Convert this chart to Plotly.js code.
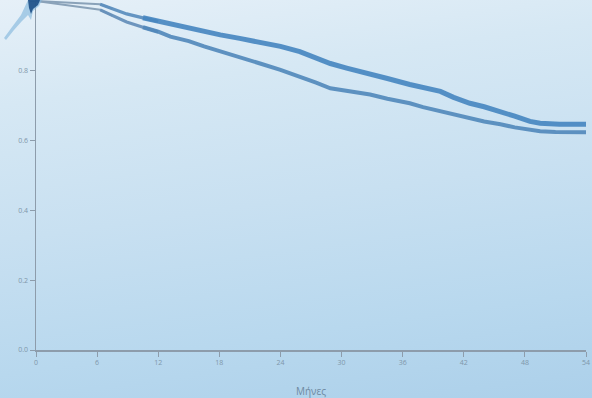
<!DOCTYPE html>
<html>
<head>
<meta charset="utf-8">
<script src="https://cdn.plot.ly/plotly-3.0.1.min.js"></script>
<style>
html,body{margin:0;padding:0;}
body{width:592px;height:398px;overflow:hidden;position:relative;
background:linear-gradient(172deg,#e6f0f8 0%,#d6e8f4 22%,#c8e0f1 50%,#b8d8ee 78%,#acd0ea 100%);}
#chart{width:592px;height:398px;position:relative;}
#splash{position:absolute;left:0;top:0;width:60px;height:60px;pointer-events:none;}
</style>
</head>
<body>
<div id="chart"></div>
<svg id="splash" viewBox="0 0 60 60">
  <path d="M28,0 L42,0 L39,6 L33,11 L31,20 L28,15 L22,21 L14,30 L6,40 L4,38 L12,27 L21,15 Z" fill="#86b9dd" opacity="0.65"/>
  <path d="M28,0 L40,0 L38,5 L33,9 L31,14 L29,8 Z" fill="#1d4f86" opacity="0.9"/>
</svg>
<script>
// Months
var monthsUpper = [0, 2.5, 4, 6.3, 7.5, 8.9, 10.5, 12, 13.2, 15, 16.5, 18.1, 20, 22, 24, 25.9, 27.5, 28.9, 30.5, 32.8, 34.5, 36.7, 38, 39.7, 41, 42.6, 44, 45.6, 47, 48.5, 49.5, 51.4, 54];
var survivalUpper = [1.0, 0.997, 0.995, 0.991, 0.978, 0.963, 0.952, 0.942, 0.932, 0.921, 0.911, 0.903, 0.893, 0.883, 0.870, 0.855, 0.838, 0.821, 0.808, 0.792, 0.778, 0.761, 0.752, 0.741, 0.724, 0.707, 0.697, 0.684, 0.670, 0.655, 0.650, 0.647, 0.647];

var monthsLower = [0, 3.6, 5, 6.3, 7.5, 8.9, 10.5, 12, 13.2, 15, 16.5, 18.1, 20, 22, 24, 25.9, 27.5, 28.9, 30.5, 32.8, 34.5, 36.7, 38, 39.7, 41, 42.6, 44, 45.6, 47, 49.5, 51, 54];
var survivalLower = [1.0, 0.986, 0.980, 0.975, 0.958, 0.940, 0.925, 0.912, 0.898, 0.885, 0.870, 0.855, 0.838, 0.821, 0.803, 0.784, 0.766, 0.750, 0.742, 0.732, 0.720, 0.707, 0.696, 0.684, 0.674, 0.664, 0.655, 0.647, 0.638, 0.627, 0.625, 0.624];

var xTicks = [0, 6, 12, 18, 24, 30, 36, 42, 48, 54];
var yTicks = [0.0, 0.2, 0.4, 0.6, 0.8, 1.0];
var xTitle = "Μήνες";

// the first months are drawn as a thinner, greyer stroke that thickens (as in the picture)
function seg(xs, ys, a, b, color, width, op) {
  return {x: xs.slice(a, b), y: ys.slice(a, b), type: 'scatter', mode: 'lines',
          line: {shape: 'linear', color: color, width: width}, opacity: op, hoverinfo: 'skip'};
}
var traces = [
  seg(monthsUpper, survivalUpper, 0, 5, '#8aa2b9', 2, 1),
  seg(monthsLower, survivalLower, 0, 5, '#8aa2b9', 2, 1),
  seg(monthsUpper, survivalUpper, 3, 8, '#5d8fbf', 3.3, 0.95),
  seg(monthsLower, survivalLower, 3, 8, '#6690ba', 3, 0.95),
  seg(monthsUpper, survivalUpper, 6, monthsUpper.length, '#4585c0', 5, 0.9),
  seg(monthsLower, survivalLower, 6, monthsLower.length, '#5087ba', 4, 0.9)
];

var layout = {
  width: 592, height: 398,
  margin: {l: 36, r: 6, t: 0, b: 48},
  paper_bgcolor: 'rgba(0,0,0,0)',
  plot_bgcolor: 'rgba(0,0,0,0)',
  showlegend: false,
  font: {family: 'Open Sans, sans-serif', color: '#7f97aa', size: 7},
  xaxis: {
    range: [0, 54], tickvals: xTicks, ticktext: xTicks.map(String),
    showgrid: false, zeroline: false, showline: true,
    linecolor: '#8d9cab', linewidth: 1.5,
    ticks: 'outside', ticklen: 5, tickcolor: '#8d9cab', tickwidth: 1,
    tickfont: {size: 7, color: '#7f97aa'},
    title: {text: xTitle, font: {size: 10, color: '#6f8aa2'}, standoff: 22}
  },
  yaxis: {
    range: [0, 1.003], tickvals: yTicks, ticktext: yTicks.map(function(v){return v.toFixed(1);}),
    showgrid: false, zeroline: false, showline: true,
    linecolor: '#8d9cab', linewidth: 1.5,
    ticks: 'outside', ticklen: 5, tickcolor: '#8d9cab', tickwidth: 1,
    tickfont: {size: 7, color: '#7f97aa'}
  }
};

Plotly.newPlot('chart', traces, layout, {staticPlot: true, displayModeBar: false});
</script>
</body>
</html>
